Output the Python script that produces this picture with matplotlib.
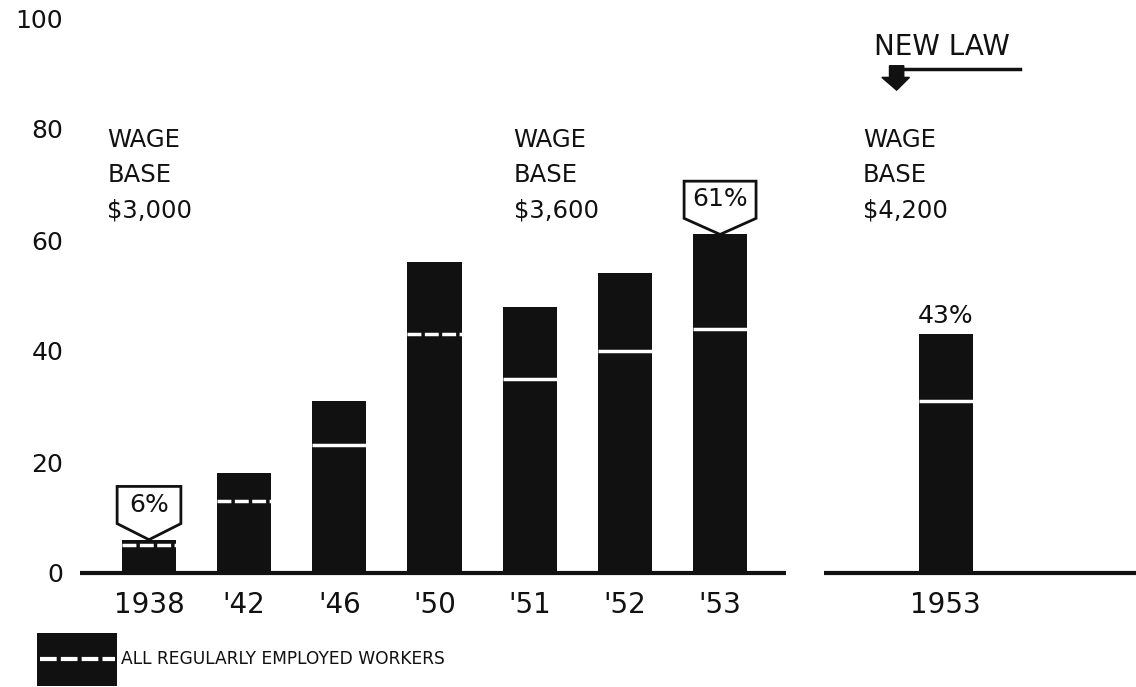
import matplotlib
matplotlib.use("Agg")
import matplotlib.pyplot as plt
from matplotlib.patches import Polygon, Rectangle

# data (percent)
years = ["1938", "'42", "'46", "'50", "'51", "'52", "'53", "1953"]
positions = [0, 1, 2, 3, 4, 5, 6, 8.37]
total_pct = [6, 18, 31, 56, 48, 54, 61, 43]
regular_pct = [5, 13, 23, 43, 35, 40, 44, 31]
dashed = [True, True, False, True, False, False, False, False]
wage_bases = ["$3,000", "$3,600", "$4,200"]
wage_x = [-0.44, 3.83, 7.5]
yticks = [0, 20, 40, 60, 80, 100]

INK = "#111111"
plt.rcParams['font.family'] = ['DejaVu Sans']

fig = plt.figure(figsize=(11.36, 6.87), dpi=100)
W, H = 1136, 687
ax = fig.add_axes([80 / W, (H - 573) / H, (W - 80) / W, 555 / H])
ax.set_xlim(-0.725, 10.37)
ax.set_ylim(0, 100)
for s in ax.spines.values():
    s.set_visible(False)

bw = 0.57
ax.bar(positions, total_pct, width=bw, color=INK, zorder=2)
for x, r, d in zip(positions, regular_pct, dashed):
    ax.hlines(r, x - bw / 2, x + bw / 2, colors="white", lw=2.5,
              linestyles=(0, (4, 1)) if d else "solid", zorder=3)

# baselines, broken between the two groups
ax.hlines(0, -0.725, 6.69, colors=INK, lw=3, zorder=4, clip_on=False)
ax.hlines(0, 7.09, 10.37, colors=INK, lw=3, zorder=4, clip_on=False)

ax.set_yticks(yticks, [str(t) for t in yticks], fontsize=18)
ax.set_xticks(positions, years, fontsize=20)
ax.tick_params(axis="both", length=0, colors=INK)
ax.tick_params(axis="y", pad=12)
ax.tick_params(axis="x", pad=13)

# wage base notes
for x, wb in zip(wage_x, wage_bases):
    ax.text(x, 80.2, "WAGE\nBASE\n" + wb, ha="left", va="top", fontsize=17.5,
            linespacing=1.6, color=INK)

# callout boxes
def callout(x, v, label, w):
    poly = Polygon([(x, v), (x - w, v + 2.9), (x - w, v + 9.6), (x + w, v + 9.6),
                    (x + w, v + 2.9)], closed=True, facecolor="white",
                   edgecolor=INK, lw=2, zorder=5, clip_on=False)
    ax.add_patch(poly)
    ax.text(x, v + 6.3, label, ha="center", va="center", fontsize=18,
            color=INK, zorder=6)

callout(positions[0], total_pct[0], "6%", 0.335)
callout(positions[6], total_pct[6], "61%", 0.378)
ax.text(positions[7], total_pct[7] + 1.2, "43%", ha="center", va="bottom",
        fontsize=18, color=INK)

# new law marker
ax.text(8.33, 94.8, "NEW LAW", ha="center", va="center", fontsize=20, color=INK)
ax.plot([7.84, 9.15], [90.9, 90.9], color=INK, lw=2.5, clip_on=False)
ax.add_patch(Polygon([(7.78, 91.4), (7.93, 91.4), (7.93, 89.3), (7.99, 89.3),
                      (7.855, 87.0), (7.70, 89.3), (7.78, 89.3)],
                     closed=True, facecolor=INK, edgecolor=INK, clip_on=False))

# legend swatch
fig.add_artist(Rectangle((37 / W, (H - 686) / H), 80 / W, 53 / H,
                         transform=fig.transFigure, facecolor=INK, edgecolor="none"))
fig.add_artist(plt.Line2D([40 / W, 115 / W], [(H - 659) / H] * 2,
                          transform=fig.transFigure, color="white", lw=3,
                          linestyle=(0, (4, 1))))
fig.text(121 / W, (H - 659) / H, "ALL REGULARLY EMPLOYED WORKERS",
         ha="left", va="center", fontsize=12.3, color=INK)

fig.savefig("out.png", dpi=100)
